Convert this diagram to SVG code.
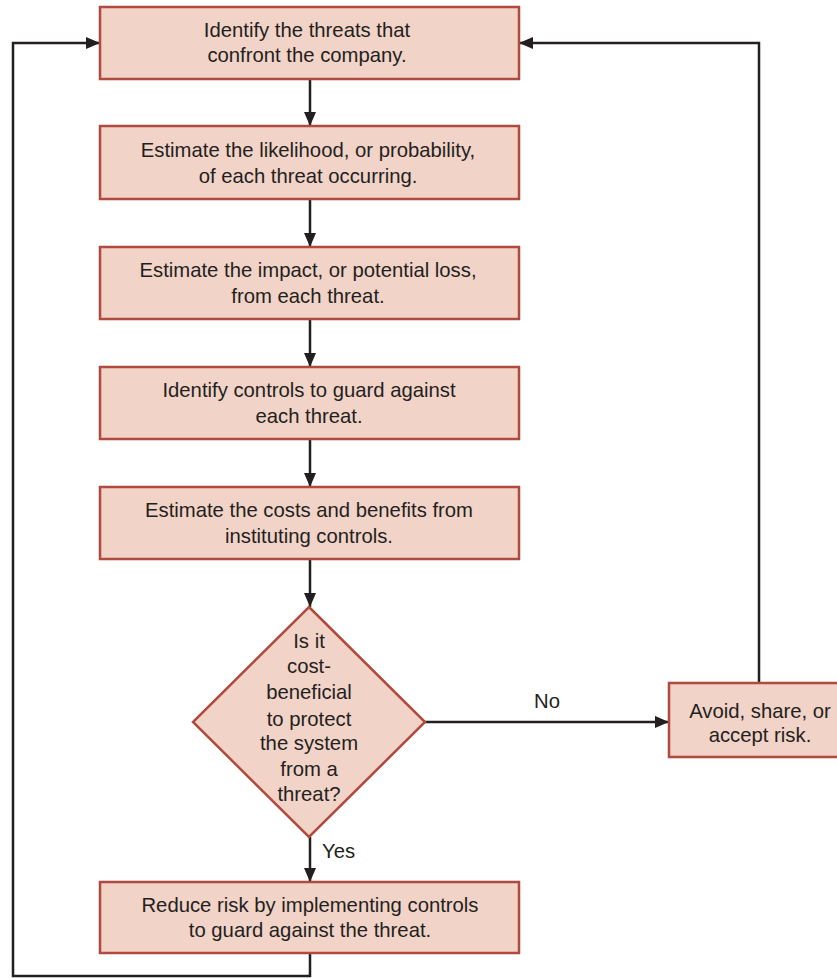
<svg xmlns="http://www.w3.org/2000/svg" width="837" height="978" viewBox="0 0 837 978">
<style>
.n{fill:#f2d3c8;stroke:#b04a3e;stroke-width:2.5}
.t{font-family:"Liberation Sans",Arial,sans-serif;font-size:20.3px;fill:#231f20;text-anchor:middle}
.c{fill:none;stroke:#231f20;stroke-width:2.5}
</style>
<defs>
<marker id="ah" markerWidth="14" markerHeight="12" refX="14" refY="6" orient="auto" markerUnits="userSpaceOnUse">
<path d="M0,0 L14,6 L0,12 Z" fill="#231f20"/>
</marker>
</defs>
<rect width="837" height="978" fill="#ffffff"/>
<g id="connectors">
<line class="c" x1="310" y1="79" x2="310" y2="126" marker-end="url(#ah)"/>
<line class="c" x1="310" y1="199" x2="310" y2="247" marker-end="url(#ah)"/>
<line class="c" x1="310" y1="319" x2="310" y2="367" marker-end="url(#ah)"/>
<line class="c" x1="310" y1="439" x2="310" y2="487" marker-end="url(#ah)"/>
<line class="c" x1="310" y1="559" x2="310" y2="607" marker-end="url(#ah)"/>
<line class="c" x1="310" y1="837" x2="310" y2="882" marker-end="url(#ah)"/>
<line class="c" x1="425" y1="722" x2="669" y2="722" marker-end="url(#ah)"/>
<polyline class="c" points="759,683 759,43 519,43" marker-end="url(#ah)"/>
<polyline class="c" points="310,953 310,976 13,976 13,43 100,43" marker-end="url(#ah)"/>
<text class="t" x="547" y="708">No</text>
<text class="t" x="322" y="858" style="text-anchor:start">Yes</text>
</g>
<g id="n1">
<rect class="n" x="100" y="7" width="419" height="72"/>
<text class="t" x="307" y="37">Identify the threats that</text>
<text class="t" x="307" y="62">confront the company.</text>
</g>
<g id="n2">
<rect class="n" x="100" y="126" width="419" height="73"/>
<text class="t" x="308" y="157">Estimate the likelihood, or probability,</text>
<text class="t" x="308" y="183">of each threat occurring.</text>
</g>
<g id="n3">
<rect class="n" x="100" y="247" width="419" height="72"/>
<text class="t" x="308" y="277">Estimate the impact, or potential loss,</text>
<text class="t" x="308" y="303">from each threat.</text>
</g>
<g id="n4">
<rect class="n" x="100" y="367" width="419" height="72"/>
<text class="t" x="309" y="397">Identify controls to guard against</text>
<text class="t" x="309" y="423">each threat.</text>
</g>
<g id="n5">
<rect class="n" x="100" y="487" width="419" height="72"/>
<text class="t" x="309" y="517">Estimate the costs and benefits from</text>
<text class="t" x="309" y="543">instituting controls.</text>
</g>
<g id="decision">
<polygon class="n" points="309,607 425,722 309,837 193,722"/>
<text class="t" x="309" y="648">Is it</text>
<text class="t" x="309" y="673">cost-</text>
<text class="t" x="309" y="699">beneficial</text>
<text class="t" x="309" y="726">to protect</text>
<text class="t" x="309" y="750">the system</text>
<text class="t" x="309" y="776">from a</text>
<text class="t" x="309" y="801">threat?</text>
</g>
<g id="avoid">
<rect class="n" x="669" y="683" width="172" height="74"/>
<text class="t" x="760" y="718">Avoid, share, or</text>
<text class="t" x="760" y="742">accept risk.</text>
</g>
<g id="reduce">
<rect class="n" x="100" y="882" width="419" height="71"/>
<text class="t" x="310" y="912">Reduce risk by implementing controls</text>
<text class="t" x="310" y="937">to guard against the threat.</text>
</g>
</svg>
